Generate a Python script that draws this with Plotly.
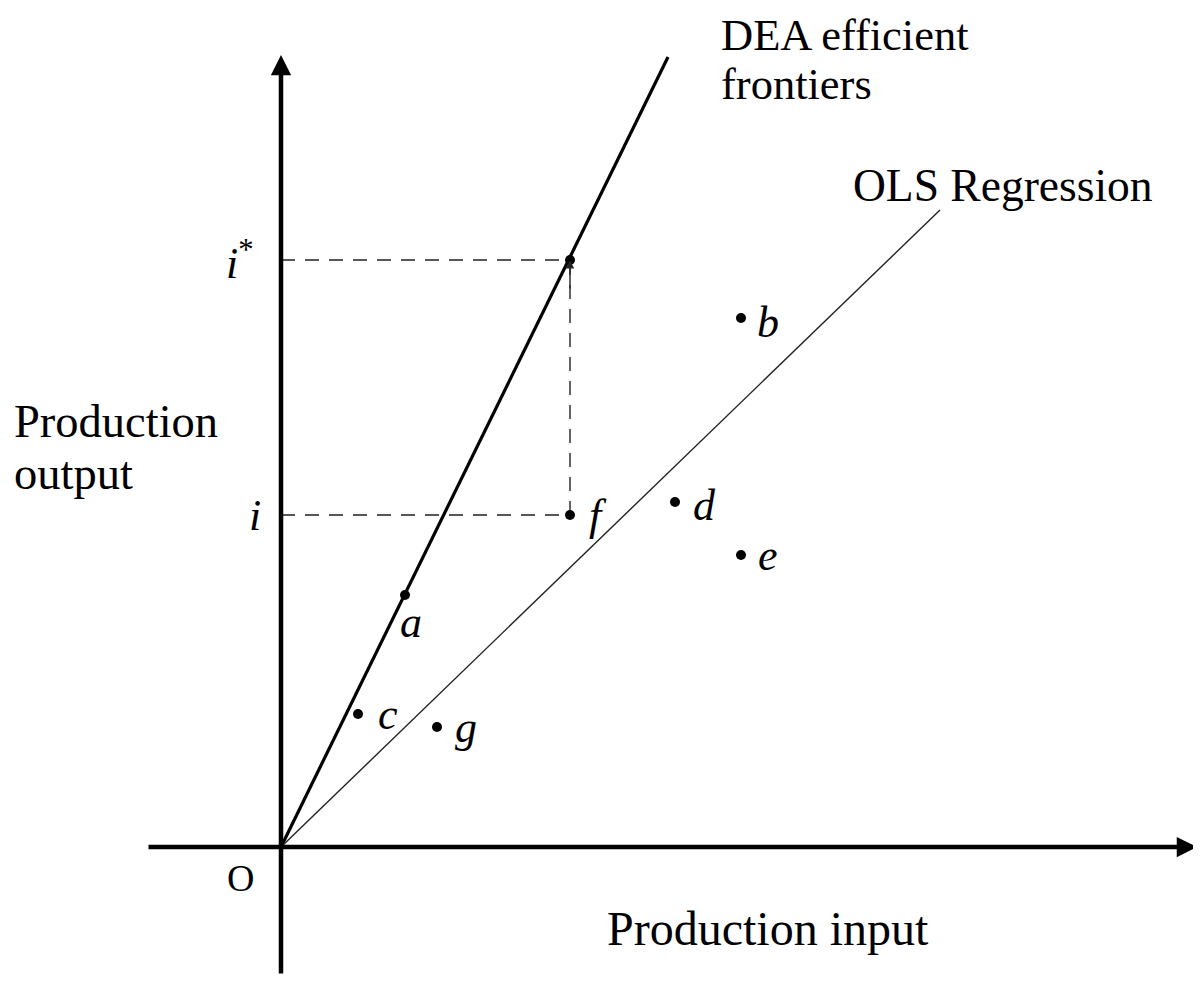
import plotly.graph_objects as go

# ---- data (arbitrary units, origin O at 0,0) ----
point_names = ["a", "b", "c", "d", "e", "f", "g"]
point_x = [1.24, 4.60, 0.77, 3.94, 4.60, 2.89, 1.56]
point_y = [2.52, 5.29, 1.33, 3.45, 2.92, 3.32, 1.20]

istar_x = 2.89
istar_y = 5.87

dea_x = [0.0, 3.87]
dea_y = [0.0, 7.90]
ols_x = [0.0, 6.59]
ols_y = [0.0, 6.37]

xaxis_span = [-1.34, 9.16]
yaxis_span = [-1.28, 7.92]

FONT = "Liberation Serif"
LAB = 44

# figure drawn inside page body (8px default margin)
W, H = 1193, 973
OFF = 8


def px(page_x):
    return (page_x - OFF) / W


def py(page_y):
    return 1 - (page_y - OFF) / H


fig = go.Figure()

fig.add_trace(go.Scatter(x=dea_x, y=dea_y, mode="lines",
                         line=dict(color="black", width=3.2), hoverinfo="skip"))
fig.add_trace(go.Scatter(x=ols_x, y=ols_y, mode="lines",
                         line=dict(color="#222", width=1.4), hoverinfo="skip"))

f_idx = point_names.index("f")
fx, fy = point_x[f_idx], point_y[f_idx]
dash = dict(color="#222", width=1.4, dash="14px,10px")
fig.add_trace(go.Scatter(x=[0, istar_x], y=[istar_y, istar_y], mode="lines",
                         line=dash, hoverinfo="skip"))
fig.add_trace(go.Scatter(x=[0, fx], y=[fy, fy], mode="lines",
                         line=dash, hoverinfo="skip"))
fig.add_trace(go.Scatter(x=[fx, fx], y=[fy, istar_y], mode="lines",
                         line=dash, hoverinfo="skip"))

fig.add_trace(go.Scatter(x=point_x + [istar_x], y=point_y + [istar_y], mode="markers",
                         marker=dict(color="black", size=10), hoverinfo="skip"))

annotations = []
annotations.append(dict(x=xaxis_span[1], y=0, ax=xaxis_span[0], ay=0,
                        xref="x", yref="y", axref="x", ayref="y", text="",
                        showarrow=True, arrowhead=2, arrowsize=0.9, arrowwidth=4.5,
                        arrowcolor="black"))
annotations.append(dict(x=0, y=yaxis_span[1], ax=0, ay=yaxis_span[0],
                        xref="x", yref="y", axref="x", ayref="y", text="",
                        showarrow=True, arrowhead=2, arrowsize=0.9, arrowwidth=4.5,
                        arrowcolor="black"))
annotations.append(dict(x=istar_x, y=istar_y, ax=istar_x, ay=istar_y - 0.3,
                        xref="x", yref="y", axref="x", ayref="y", text="",
                        showarrow=True, arrowhead=2, arrowsize=1.2, arrowwidth=1.4,
                        arrowcolor="#222"))

label_shift = {"a": (6, -27), "b": (27, -4), "c": (30, 0), "d": (29, -3),
               "e": (27, 0), "f": (28, 0), "g": (29, 0)}
for n, x, y in zip(point_names, point_x, point_y):
    dx, dy = label_shift[n]
    annotations.append(dict(x=x, y=y, xref="x", yref="y", text=f"<i>{n}</i>",
                            showarrow=False, xshift=dx, yshift=dy,
                            font=dict(family=FONT, size=LAB, color="black"),
                            xanchor="center", yanchor="middle"))

annotations.append(dict(x=0, y=istar_y, xref="x", yref="y", text="<i>i</i><sup>*</sup>",
                        showarrow=False, xshift=-41, yshift=0,
                        font=dict(family=FONT, size=LAB, color="black")))
annotations.append(dict(x=0, y=fy, xref="x", yref="y", text="<i>i</i>",
                        showarrow=False, xshift=-26, yshift=0,
                        font=dict(family=FONT, size=LAB, color="black")))
annotations.append(dict(x=0, y=0, xref="x", yref="y", text="O",
                        showarrow=False, xshift=-41, yshift=-31,
                        font=dict(family=FONT, size=38, color="black")))


def txt(text, x, y, size, anchor="left"):
    annotations.append(dict(x=px(x), y=py(y), xref="paper", yref="paper",
                            text=text, showarrow=False,
                            xanchor=anchor, yanchor="middle",
                            font=dict(family=FONT, size=size, color="black")))


txt("Production", 12, 421, 46.5)
txt("output", 12, 474, 46.5)
txt("Production input", 768, 928, 48, anchor="center")
txt("DEA efficient", 719, 35, 44.5)
txt("frontiers", 719, 84, 44.5)
txt("OLS Regression", 851, 185, 45.5)

fig.update_layout(
    width=W, height=H,
    margin=dict(l=0, r=0, t=0, b=0),
    paper_bgcolor="white", plot_bgcolor="white",
    showlegend=False,
    annotations=annotations,
    xaxis=dict(range=[-2.73, 9.20], visible=False, fixedrange=True),
    yaxis=dict(range=[-1.34, 8.39], visible=False, fixedrange=True),
)

fig.write_html("out.html")
